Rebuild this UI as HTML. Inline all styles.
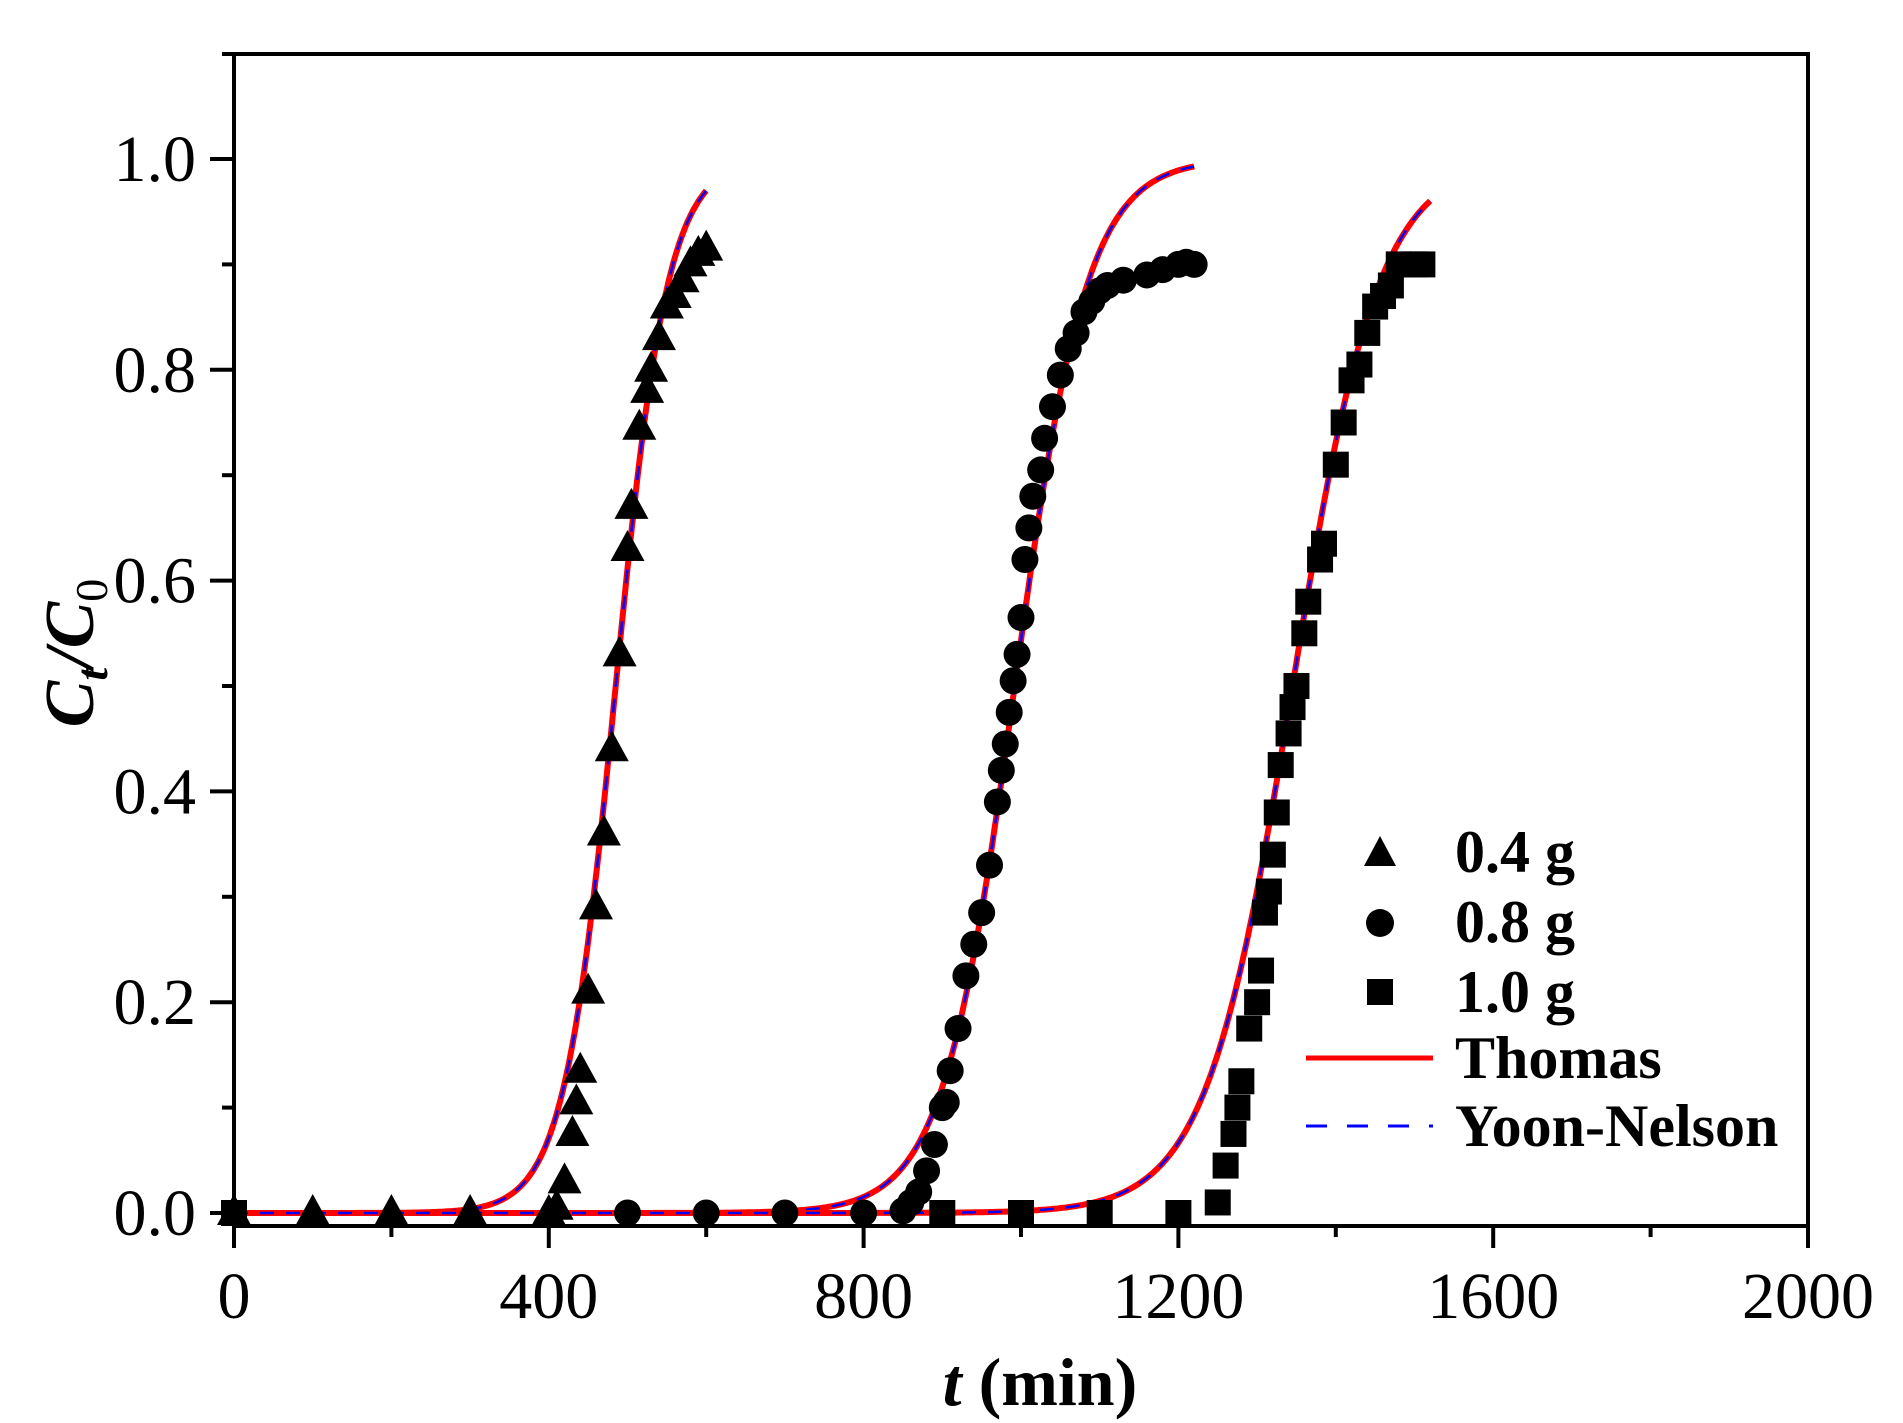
<!DOCTYPE html>
<html><head><meta charset="utf-8"><style>
html,body{margin:0;padding:0;background:#fff;}
svg{display:block;}
text{font-family:"Liberation Serif",serif;fill:#000;}
</style></head><body>
<svg id="s" width="1903" height="1423" viewBox="0 0 1903 1423" xmlns="http://www.w3.org/2000/svg">
<g stroke="#000" stroke-width="4" fill="none">
<line x1="222" y1="54" x2="1810" y2="54"/>
<line x1="1808" y1="54" x2="1808" y2="1248"/>
<line x1="234" y1="54" x2="234" y2="1248"/>
<line x1="232" y1="1226" x2="1810" y2="1226"/>
</g>
<g id="ticks" stroke="#000" stroke-width="4"></g>
<g font-size="66" text-anchor="end" id="yl"></g>
<g font-size="66" text-anchor="middle" id="xl"></g>
<g id="curves" fill="none"></g>
<g id="pts" fill="#000"></g>
<text x="1040" y="1405" font-size="68" font-weight="bold" text-anchor="middle"><tspan font-style="italic">t</tspan> (min)</text>
<text transform="translate(93,653) rotate(-90)" font-size="70" font-weight="bold" font-style="italic" text-anchor="middle">C<tspan font-size="46" dy="14">t</tspan><tspan dy="-14">/C</tspan><tspan font-size="46" dy="14" font-style="normal" font-weight="normal">0</tspan></text>
<g font-size="60" font-weight="bold">
<polygon points="1380,836 1396,866 1364,866" fill="#000"/>
<text x="1455" y="872">0.4 g</text>
<circle cx="1380" cy="923" r="14" fill="#000"/>
<text x="1455" y="942">0.8 g</text>
<rect x="1367" y="979" width="26" height="26" fill="#000"/>
<text x="1455" y="1012">1.0 g</text>
<line x1="1306" y1="1058" x2="1433" y2="1058" stroke="#f00" stroke-width="5"/>
<text x="1455" y="1078">Thomas</text>
<line x1="1306" y1="1126" x2="1433" y2="1126" stroke="#00f" stroke-width="3" stroke-dasharray="21,20"/>
<text x="1455" y="1146">Yoon-Nelson</text>
</g>
</svg>
<script>
var NS="http://www.w3.org/2000/svg";
function X(t){return 234+t*0.787;}
function Y(v){return 1213-v*1054;}
function el(p,tag,a,txt){var e=document.createElementNS(NS,tag);for(var k in a)e.setAttribute(k,a[k]);if(txt!==undefined)e.textContent=txt;document.getElementById(p).appendChild(e);return e;}
for(var i=0;i<=10;i++){var v=i/10,y=Y(v);el("ticks","line",{x1:i%2?222:210,y1:y,x2:234,y2:y});
 if(i%2==0)el("yl","text",{x:196,y:y+22},v.toFixed(1));}
for(var i=0;i<=10;i++){var t=i*200,x=X(t);el("ticks","line",{x1:x,y1:1226,x2:x,y2:i%2?1237:1248});
 if(i%2==0)el("xl","text",{x:x,y:1318},String(t));}
function curve(t50,k,end){var d="";for(var t=0;t<=end;t+=2){var v=1/(1+Math.exp(-k*(t-t50)));d+=(t?"L":"M")+X(t).toFixed(1)+","+Y(v).toFixed(1);}return d;}
var fits=[[485,0.0302,600],[992,0.0217,1220],[1345,0.0182,1520]];
fits.forEach(function(f){var d=curve(f[0],f[1],f[2]);
 el("curves","path",{d:d,stroke:"#f00","stroke-width":6});
 el("curves","path",{d:d,stroke:"#00f","stroke-width":2.5,"stroke-dasharray":"14,12"});});
var tri=[[0,0],[100,0],[200,0],[300,0],[400,0],[410,0.005],[420,0.03],[430,0.075],[435,0.105],[440,0.135],[450,0.21],[460,0.29],[470,0.36],[480,0.44],[490,0.53],[500,0.63],[505,0.67],[515,0.745],[525,0.78],[530,0.80],[540,0.83],[550,0.86],[560,0.87],[570,0.885],[580,0.9],[590,0.91],[600,0.915]];
var cir=[[500,0],[600,0],[700,0],[800,0],[850,0.002],[860,0.01],[870,0.02],[880,0.04],[890,0.065],[900,0.1],[905,0.105],[910,0.135],[920,0.175],[930,0.225],[940,0.255],[950,0.285],[960,0.33],[970,0.39],[975,0.42],[980,0.445],[985,0.475],[990,0.505],[995,0.53],[1000,0.565],[1005,0.62],[1010,0.65],[1015,0.68],[1025,0.705],[1030,0.735],[1040,0.765],[1050,0.795],[1060,0.82],[1070,0.835],[1080,0.855],[1090,0.865],[1100,0.875],[1110,0.88],[1130,0.885],[1160,0.89],[1180,0.895],[1200,0.9],[1210,0.902],[1220,0.9]];
var sq=[[0,0],[900,0],[1000,0],[1100,0],[1200,0],[1250,0.01],[1260,0.045],[1270,0.075],[1275,0.1],[1280,0.125],[1290,0.175],[1300,0.2],[1305,0.23],[1310,0.285],[1315,0.305],[1320,0.34],[1325,0.38],[1330,0.425],[1340,0.455],[1345,0.48],[1350,0.5],[1360,0.55],[1365,0.58],[1380,0.62],[1385,0.635],[1400,0.71],[1410,0.75],[1420,0.79],[1430,0.805],[1440,0.835],[1450,0.86],[1460,0.87],[1470,0.88],[1480,0.9],[1500,0.9],[1510,0.9]];
tri.forEach(function(p){var x=X(p[0]),y=Y(p[1]);el("pts","polygon",{points:(x)+","+(y-19)+" "+(x+17)+","+(y+12)+" "+(x-17)+","+(y+12)});});
cir.forEach(function(p){el("pts","circle",{cx:X(p[0]),cy:Y(p[1]),r:13.5});});
sq.forEach(function(p){el("pts","rect",{x:X(p[0])-13,y:Y(p[1])-13,width:26,height:26});});
</script>
</body></html>
